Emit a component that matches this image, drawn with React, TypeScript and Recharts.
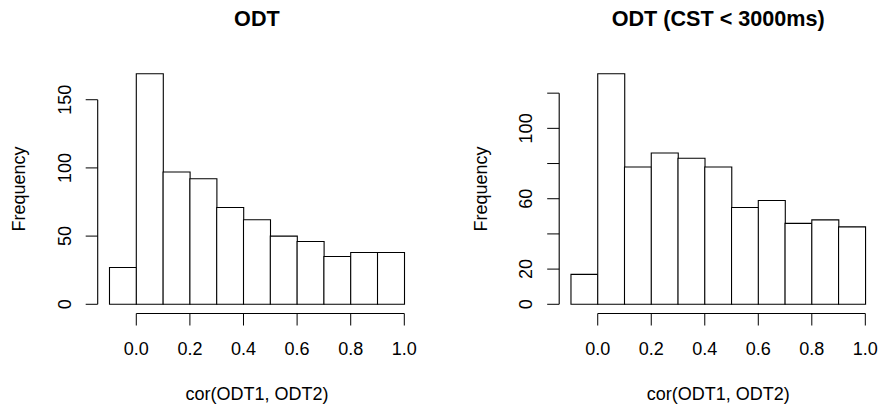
import { BarChart, Bar, XAxis, YAxis, ReferenceLine, Label } from 'recharts';

// histogram bins of cor(ODT1, ODT2), width 0.1, from -0.1 to 1.0
const binMids = [-0.05, 0.05, 0.15, 0.25, 0.35, 0.45, 0.55, 0.65, 0.75, 0.85, 0.95];
const odtCounts = [27, 169, 97, 92, 71, 62, 50, 46, 35, 38, 38];
const odtFastCounts = [17, 131, 78, 86, 83, 78, 55, 59, 46, 48, 44];

const xTicks = [0, 0.2, 0.4, 0.6, 0.8, 1.0];
const odtYTicks = [0, 50, 100, 150];
const odtFastYTicks = [0, 20, 40, 60, 80, 100, 120];
const odtFastYLabels = [0, 20, 60, 100];

const FONT = '"Liberation Sans", Arial, Helvetica, sans-serif';
const BREAK_LO = -0.1;
const BREAK_HI = 1.0;
// R pads the plotting region by 4% on every side
const xPad = (BREAK_HI - BREAK_LO) * 0.04;
const X_DOMAIN: [number, number] = [BREAK_LO - xPad, BREAK_HI + xPad];

const H = 410;
const PLOT_TOP = 64.6;
const X_AXIS_H = 96.5;

function YTick({ x, y, payload, labeled }: any) {
    if (labeled && !labeled.includes(payload.value)) return null;
    return (
        <text x={x} y={y} transform={`rotate(-90, ${x}, ${y})`} textAnchor="middle"
            fontSize={18} fontFamily={FONT} fill="#000">
            {payload.value}
        </text>
    );
}

interface HistProps {
    counts: number[];
    yTicks: number[];
    yLabeled?: number[];
    width: number;
    yAxisW: number;
    rightM: number;
}

function Hist({ counts, yTicks, yLabeled, width, yAxisW, rightM }: HistProps) {
    const data = binMids.map((mid, i) => ({ mid, count: counts[i] }));
    const yMax = Math.max(...counts);
    const yDomain: [number, number] = [-yMax * 0.04, yMax * 1.04];
    const yTop = yTicks[yTicks.length - 1];

    return (
        <BarChart width={width} height={H} data={data} barCategoryGap={0}
            margin={{ top: PLOT_TOP, right: rightM, bottom: 0, left: 0 }}>
            <XAxis dataKey="mid" type="number" domain={X_DOMAIN} allowDataOverflow ticks={xTicks} interval={0}
                height={X_AXIS_H} axisLine={false} tickSize={12} tickMargin={16.5} stroke="#000"
                tickFormatter={(v: number) => v.toFixed(1)}
                tick={{ fontSize: 18, fill: '#000', fontFamily: FONT }}>
                <Label content={({ viewBox }: any) => (
                    <text x={viewBox.x + viewBox.width / 2} y={viewBox.y + 86} textAnchor="middle"
                        fontSize={18} fontFamily={FONT} fill="#000">cor(ODT1, ODT2)</text>
                )} />
            </XAxis>
            <YAxis type="number" domain={yDomain} allowDataOverflow ticks={yTicks} interval={0}
                width={yAxisW} axisLine={false} tickSize={12} tickMargin={14.7} stroke="#000"
                tick={<YTick labeled={yLabeled} />}>
                <Label content={({ viewBox }: any) => {
                    const bx = viewBox.x + viewBox.width - 72.3;
                    const by = viewBox.y + viewBox.height / 2;
                    return (
                        <text x={bx} y={by} transform={`rotate(-90, ${bx}, ${by})`} textAnchor="middle"
                            fontSize={18} fontFamily={FONT} fill="#000">Frequency</text>
                    );
                }} />
            </YAxis>
            <Bar dataKey="count" fill="#fff" stroke="#000" strokeWidth={1.1} isAnimationActive={false} />
            <ReferenceLine ifOverflow="visible" stroke="#000" strokeWidth={1.1}
                segment={[{ x: xTicks[0], y: yDomain[0] }, { x: xTicks[xTicks.length - 1], y: yDomain[0] }]} />
            <ReferenceLine ifOverflow="visible" stroke="#000" strokeWidth={1.1}
                segment={[{ x: X_DOMAIN[0], y: 0 }, { x: X_DOMAIN[0], y: yTop }]} />
        </BarChart>
    );
}

export default function App() {
    return (
        <div style={{ position: 'relative', width: 881, height: H, background: '#fff', fontFamily: FONT }}>
            <style>{'body{margin:0}'}</style>
            <div style={{ position: 'absolute', left: 0, top: 0 }}>
                <Hist counts={odtCounts} yTicks={odtYTicks} width={440} yAxisW={97.7} rightM={23.9} />
            </div>
            <div style={{ position: 'absolute', left: 440, top: 0 }}>
                <Hist counts={odtFastCounts} yTicks={odtFastYTicks} yLabeled={odtFastYLabels}
                    width={441} yAxisW={119.2} rightM={3.9} />
            </div>
            <svg width={881} height={H} style={{ position: 'absolute', left: 0, top: 0, pointerEvents: 'none' }}>
                <text x={256.9} y={25.6} textAnchor="middle" fontSize={21.6} fontWeight="bold" fontFamily={FONT} fill="#000">ODT</text>
                <text x={718.2} y={25.6} textAnchor="middle" fontSize={21.6} fontWeight="bold" fontFamily={FONT} fill="#000">ODT (CST &lt; 3000ms)</text>
            </svg>
        </div>
    );
}
